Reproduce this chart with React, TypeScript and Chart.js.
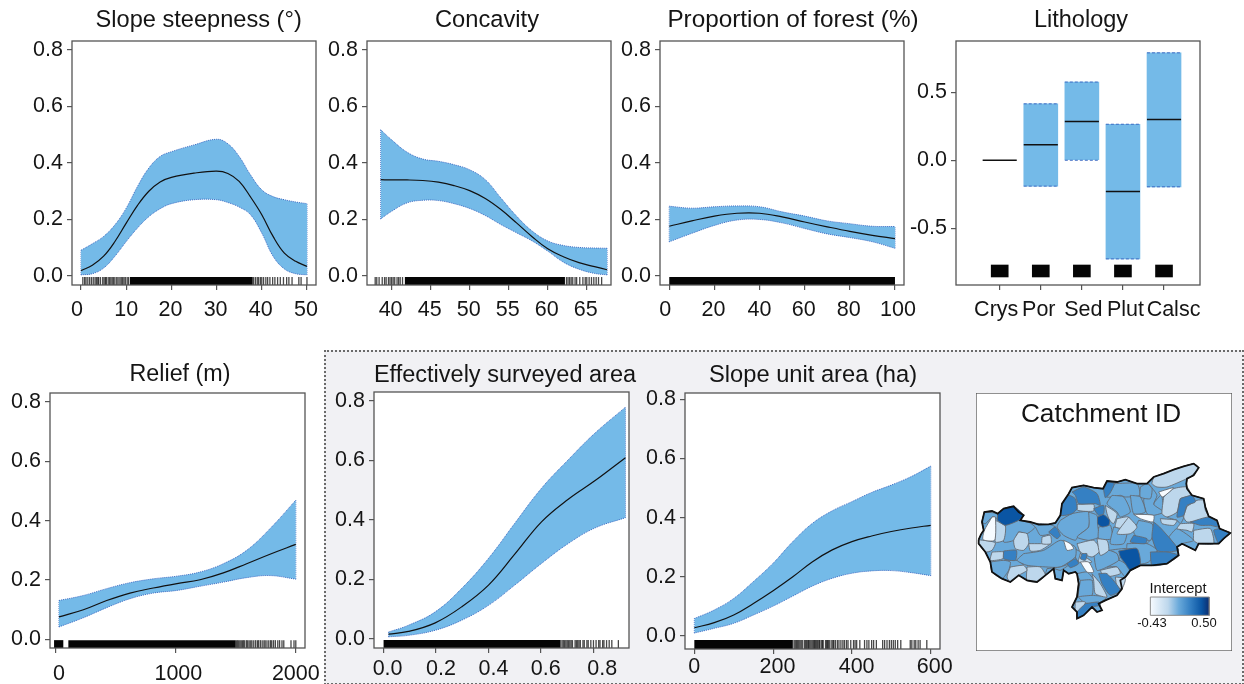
import React, { useEffect, useRef } from "react";
import { Chart, registerables } from "chart.js";

Chart.register(...registerables);

const FONT = '"Liberation Sans", Arial, sans-serif';
const INK = "#151515";
const FRAME = "#555555";
const BAND = "#74bae8";
const BAND_EDGE = "#3f6cc4";

// ---- Slope steepness
const steepX = [0, 2.5, 5, 7.5, 10, 12.5, 15, 17.5, 20, 25, 30, 32.5, 35, 37.5, 40, 42.5, 45, 47.5, 50];
const steepFit = [0.019, 0.038, 0.07, 0.122, 0.187, 0.25, 0.3, 0.333, 0.349, 0.364, 0.371, 0.363, 0.335, 0.28, 0.217, 0.14, 0.081, 0.052, 0.034];
const steepHigh = [0.091, 0.114, 0.14, 0.181, 0.24, 0.317, 0.382, 0.423, 0.44, 0.464, 0.484, 0.468, 0.423, 0.358, 0.305, 0.281, 0.27, 0.262, 0.256];
const steepLow = [0.004, 0.008, 0.028, 0.07, 0.122, 0.17, 0.21, 0.238, 0.256, 0.27, 0.27, 0.26, 0.244, 0.217, 0.152, 0.07, 0.025, 0.008, 0.004];
const steepTicks = [0, 10, 20, 30, 40, 50];
const steepRugBand = [10.8, 38];
const steepRug = [0.4, 0.8, 1.1, 1.5, 1.9, 2.3, 2.7, 3.1, 3.4, 3.7, 3.9, 4.3, 4.8, 5.1, 5.4, 5.6, 6, 6.3, 6.6, 6.9, 7.2, 7.5, 7.9, 8.2, 8.6, 8.9, 9.2, 9.5, 9.8, 10.2, 10.5, 38.2, 38.6, 39, 39.3, 39.7, 40, 40.4, 40.9, 41.3, 41.8, 42.4, 42.9, 43.5, 44.1, 44.8, 45.5, 46, 46.7, 48.2, 48.7, 50];

// ---- Concavity
const concX = [38.6, 40, 42, 44, 46, 48, 50, 52, 54, 56, 58, 60, 62, 64, 66, 67.6];
const concFit = [0.341, 0.34, 0.34, 0.338, 0.332, 0.32, 0.302, 0.274, 0.235, 0.188, 0.139, 0.096, 0.068, 0.047, 0.033, 0.022];
const concHigh = [0.518, 0.482, 0.438, 0.414, 0.406, 0.394, 0.376, 0.341, 0.276, 0.212, 0.159, 0.124, 0.108, 0.101, 0.099, 0.098];
const concLow = [0.202, 0.229, 0.259, 0.268, 0.267, 0.256, 0.239, 0.214, 0.182, 0.153, 0.124, 0.088, 0.049, 0.024, 0.009, 0.004];
const concTicks = [40, 45, 50, 55, 60, 65];
const concRugBand = [41.7, 62.2];
const concRug = [37.9, 38.1, 38.4, 38.8, 39.1, 39.3, 39.6, 39.8, 40, 40.2, 40.4, 40.7, 40.9, 41.1, 41.4, 62.4, 62.6, 62.8, 63, 63.2, 63.5, 63.7, 64.1, 64.5, 64.8, 65, 65.3, 65.6, 65.9, 66.2, 66.5, 66.9];

// ---- Proportion of forest
const forestX = [0, 10, 20, 30, 40, 50, 60, 70, 80, 90, 100];
const forestFit = [0.176, 0.195, 0.212, 0.222, 0.222, 0.209, 0.191, 0.174, 0.158, 0.144, 0.132];
const forestHigh = [0.247, 0.24, 0.245, 0.248, 0.245, 0.227, 0.212, 0.195, 0.185, 0.176, 0.175];
const forestLow = [0.121, 0.151, 0.179, 0.198, 0.2, 0.188, 0.168, 0.149, 0.136, 0.121, 0.098];
const forestTicks = [0, 20, 40, 60, 80, 100];
const forestRugBand = [0, 100];
const forestRug: number[] = [];

// ---- Lithology
const lithCategories = ["Crys", "Por", "Sed", "Plut", "Calsc"];
const lithPositions = [1, 2, 3, 4, 5];
const lithMean = [0, 0.115, 0.285, -0.23, 0.3];
const lithLow = [null, -0.19, 0.0, -0.725, -0.195];
const lithHigh = [null, 0.415, 0.575, 0.265, 0.79];
const lithRugLow = -0.858;
const lithRugHigh = -0.77;
const lithYTicks = [-0.5, 0, 0.5];

// ---- Relief
const reliefX = [29, 232, 426, 620, 814, 1011, 1203, 1397, 1591, 1785, 2000];
const reliefFit = [0.076, 0.1, 0.131, 0.156, 0.173, 0.188, 0.201, 0.224, 0.255, 0.287, 0.32];
const reliefHigh = [0.131, 0.148, 0.171, 0.191, 0.204, 0.213, 0.227, 0.255, 0.3, 0.373, 0.469];
const reliefLow = [0.042, 0.073, 0.107, 0.137, 0.156, 0.165, 0.179, 0.193, 0.208, 0.215, 0.203];
const reliefTicks = [0, 1000, 2000];
const reliefRugBands = [[-12, 65], [107, 1500]];
const reliefRug = [1505, 1515, 1525, 1535, 1545, 1555, 1565, 1575, 1590, 1600, 1612, 1625, 1635, 1650, 1665, 1680, 1690, 1705, 1720, 1735, 1745, 1760, 1775, 1790, 1800, 1815, 1830, 1850, 1865, 1885, 1900, 1960, 1985, 2000];

// ---- Effectively surveyed area
const surveyX = [0.019, 0.095, 0.197, 0.298, 0.4, 0.5, 0.602, 0.704, 0.805, 0.922];
const surveyFit = [0.015, 0.024, 0.053, 0.107, 0.18, 0.284, 0.393, 0.469, 0.531, 0.609];
const surveyHigh = [0.022, 0.045, 0.09, 0.169, 0.27, 0.388, 0.506, 0.602, 0.691, 0.779];
const surveyLow = [0.006, 0.011, 0.028, 0.062, 0.112, 0.18, 0.253, 0.32, 0.372, 0.407];
const surveyTicks = [0, 0.2, 0.4, 0.6, 0.8];
const surveyRugBand = [0, 0.675];
const surveyRug = [0.68, 0.685, 0.69, 0.695, 0.7, 0.705, 0.71, 0.715, 0.72, 0.73, 0.735, 0.74, 0.745, 0.75, 0.76, 0.765, 0.775, 0.78, 0.79, 0.8, 0.81, 0.82, 0.825, 0.835, 0.84, 0.85, 0.86, 0.87, 0.895];

// ---- Slope unit area
const unitX = [0, 50.6, 100, 150, 200, 250, 300, 350, 400, 450, 500, 551, 600];
const unitFit = [0.028, 0.045, 0.071, 0.11, 0.153, 0.2, 0.251, 0.291, 0.319, 0.338, 0.353, 0.365, 0.374];
const unitHigh = [0.059, 0.088, 0.127, 0.184, 0.246, 0.319, 0.381, 0.423, 0.454, 0.485, 0.51, 0.539, 0.574];
const unitLow = [0.01, 0.026, 0.043, 0.071, 0.101, 0.135, 0.169, 0.195, 0.212, 0.22, 0.221, 0.214, 0.204];
const unitTicks = [0, 200, 400, 600];
const unitRugBand = [0, 250];
const unitRug = [253, 256, 259, 262, 265, 268, 271, 274, 279, 282, 285, 288, 290, 293, 296, 299, 302, 305, 307, 310, 313, 316, 318, 322, 325, 327, 333, 336, 338, 341, 344, 349, 352, 354, 358, 363, 367, 372, 377, 381, 386, 390, 397, 404, 408, 412, 420, 432, 438, 443, 450, 455, 462, 478, 483, 489, 495, 500, 505, 510, 516, 524, 548, 552, 558, 562, 568, 573, 590];

const effectYTicks = [0, 0.2, 0.4, 0.6, 0.8];

// ---- Catchment ID map, in map units, north at small y
const mapXRange = [47, 815];
const mapYRange = [38, 812];
const mapOutline = [[55,478],[62,462],[70,450],[65,425],[72,395],[95,392],[112,400],[130,385],[160,378],[175,395],[190,405],[180,420],[210,425],[235,433],[265,432],[285,428],[300,405],[303,385],[305,370],[325,340],[335,322],[370,315],[400,322],[428,325],[440,302],[470,305],[495,298],[530,310],[560,310],[580,290],[610,280],[640,268],[670,258],[700,250],[715,262],[700,285],[680,295],[678,310],[680,325],[695,345],[730,355],[735,380],[745,408],[770,420],[778,445],[810,458],[790,475],[775,490],[745,490],[715,490],[705,510],[665,490],[650,500],[655,525],[620,550],[575,555],[540,555],[510,570],[495,590],[480,600],[485,625],[470,645],[435,660],[415,670],[425,690],[410,695],[395,680],[370,705],[350,715],[350,695],[335,680],[350,650],[355,610],[350,580],[345,575],[325,580],[310,570],[305,600],[285,595],[280,565],[255,585],[230,605],[200,600],[175,585],[150,605],[125,595],[95,575],[90,545],[75,515],[55,490],[55,478]];
const catchmentShapes = [
  [[600,345],[580,372],[610,395],[605,350]],
  [[650,395],[670,410],[660,430],[650,420],[620,410]],
  [[590,515],[575,470],[570,480],[560,490],[590,510]],
  [[625,470],[650,445],[700,480],[665,490],[650,500]],
  [[130,540],[170,540],[190,555],[150,560]],
  [[340,505],[360,515],[355,545],[345,530]],
  [[445,510],[500,505],[480,530],[475,540],[470,520]],
  [[440,560],[475,540],[495,550],[510,570],[495,590],[470,560]],
  [[350,580],[380,575],[400,600],[360,600]],
  [[190,520],[250,510],[300,480],[345,500],[345,530],[300,560],[260,560],[200,555],[170,540]],
  [[300,420],[335,400],[385,395],[385,440],[355,465],[345,480],[310,465],[290,440]],
  [[135,435],[175,420],[210,428],[225,440],[200,460],[175,455],[160,480],[130,485]],
  [[210,428],[265,432],[285,440],[270,460],[240,465],[225,440]],
  [[385,395],[410,405],[412,435],[415,470],[385,480],[350,470],[385,440]],
  [[462,310],[530,310],[538,345],[495,350],[480,345],[440,350]],
  [[565,310],[590,345],[580,372],[610,395],[580,405],[560,400],[550,360]],
  [[500,490],[560,490],[590,510],[565,545],[540,550],[530,505],[500,505]],
  [[400,520],[445,510],[470,520],[475,540],[440,560],[410,570]],
  [[90,545],[130,540],[150,545],[145,570],[125,595],[95,575]],
  [[260,565],[300,560],[330,550],[300,570],[280,565],[255,585]],
  [[455,345],[490,350],[510,395],[480,410],[470,395],[440,370]],
  [[510,345],[540,350],[555,395],[520,400]],
  [[415,440],[450,435],[455,475],[415,475]],
  [[460,440],[500,450],[490,490],[450,490]],
  [[535,420],[575,430],[580,455],[570,480],[530,470],[520,455]],
  [[540,320],[560,310],[575,325],[570,355],[540,350]],
  [[360,600],[395,600],[395,645],[355,650]],
  [[395,645],[440,650],[415,668],[375,668],[355,650]],
  [[72,395],[110,400],[112,420],[105,410],[95,410],[75,430],[65,425]],
  [[200,560],[240,560],[255,585],[230,605],[200,600]],
  [[580,290],[640,268],[700,250],[715,262],[690,290],[680,295],[620,320],[590,320],[575,310]],
  [[610,350],[640,325],[680,320],[690,345],[660,355],[650,395],[620,410],[605,400]],
  [[680,378],[710,360],[730,360],[735,390],[745,410],[720,420],[680,425],[670,410]],
  [[700,450],[750,445],[760,490],[715,490],[700,480]],
  [[660,430],[700,430],[695,455],[680,450],[650,445]],
  [[600,415],[650,420],[640,435],[605,430]],
  [[105,420],[135,437],[130,480],[105,485]],
  [[175,455],[200,460],[205,490],[190,510],[165,505],[160,480]],
  [[55,478],[105,487],[95,510],[75,515],[55,490]],
  [[95,515],[130,515],[128,535],[90,540]],
  [[150,560],[190,555],[200,570],[175,585],[150,605],[140,590]],
  [[205,490],[240,490],[270,490],[240,510],[210,512]],
  [[245,470],[270,465],[272,490],[245,490]],
  [[350,372],[400,372],[400,392],[352,390]],
  [[350,490],[400,480],[420,510],[395,530],[360,515]],
  [[410,475],[440,480],[445,510],[420,525]],
  [[435,375],[470,400],[460,430],[448,420],[440,400]],
  [[470,415],[505,410],[510,445],[465,440]],
  [[505,410],[530,440],[510,460],[470,460]],
  [[360,520],[395,545],[355,545]],
  [[395,580],[420,610],[440,650],[405,640],[400,600]],
  [[465,590],[495,595],[485,625],[470,620]],
  [[420,570],[470,560],[480,580],[430,590]],
  [[345,665],[375,665],[360,695],[345,690]],
  [[130,512],[168,510],[165,540],[130,535]],
  [[265,455],[285,440],[300,465],[290,475]],
  [[335,335],[370,320],[410,340],[420,375],[405,370],[355,370],[345,345]],
  [[305,370],[325,345],[345,355],[350,385],[335,400],[302,405]],
  [[400,385],[430,375],[430,400],[415,405]],
  [[430,330],[440,305],[462,310],[448,340],[435,352]],
  [[660,355],[695,345],[705,365],[680,375],[670,405],[650,410]],
  [[690,425],[745,410],[770,425],[775,440],[750,435],[720,435]],
  [[775,445],[810,458],[790,475],[775,490],[760,450]],
  [[580,425],[598,440],[625,470],[650,500],[655,510],[620,515],[590,510],[575,470]],
  [[570,515],[620,515],[655,525],[620,550],[575,555]],
  [[520,465],[560,475],[555,490],[510,485]],
  [[415,580],[440,580],[480,630],[450,645],[425,610]],
  [[375,670],[415,665],[420,675],[395,680],[370,705],[350,715],[350,695]],
  [[365,520],[380,520],[375,540],[360,535]],
  [[320,550],[345,535],[355,550],[330,562]],
  [[112,400],[130,385],[160,378],[190,405],[175,420],[135,435],[112,420]],
  [[412,410],[430,403],[448,420],[445,435],[425,440],[412,430]],
  [[475,512],[530,505],[540,550],[510,570],[495,550],[480,530]],
  [[95,410],[105,410],[103,480],[68,478],[72,450]],
  [[595,335],[640,322],[615,345],[605,350]],
  [[520,402],[580,405],[578,425],[540,415]],
  [[310,480],[330,490],[340,505],[320,510]],
  [[360,545],[385,545],[400,575],[380,575]],
];
const catchmentIntercepts = [
  0.02,0.02,0.02,0.02,0.02,0.02,0.02,0.02,0.02,
  0.02,0.02,0.02,0.02,0.02,0.02,0.02,0.02,0.02,0.02,0.02,0.02,0.02,0.02,0.02,0.02,0.02,0.02,0.02,0.02,
  -0.15,-0.15,-0.15,-0.15,-0.15,-0.15,-0.15,-0.15,-0.15,-0.15,-0.15,-0.15,-0.15,-0.15,-0.15,-0.15,-0.15,-0.15,-0.15,-0.15,-0.15,-0.15,-0.15,-0.15,-0.15,
  0.2,0.2,0.2,0.2,0.2,0.2,0.2,0.2,0.2,0.2,0.2,0.2,0.2,0.2,0.2,0.2,
  0.38,0.38,0.38,
  -0.43,-0.43,-0.43,-0.43,-0.43,
];
const interceptStops: [number, string][] = [[-0.43, "#f7fbff"], [-0.15, "#bdd7ec"], [0.02, "#69a9da"], [0.2, "#3580c3"], [0.38, "#0a55a3"], [0.5, "#0c2c6e"]];
const legendBox = [570, 747, 650, 705];

const shade = (v: number) => (interceptStops.find((s) => s[0] >= v) || interceptStops[interceptStops.length - 1])[1];

type Curve = {
  x: number[]; fit: number[]; low: number[]; high: number[]; ticks: number[];
  rugBands: number[][]; rug: number[];
};
type Frame = {
  l: number; r: number; t: number; b: number; xMin: number; xMax: number; yMin: number; yMax: number;
  rugY: number; rugR: number; xDigits: number; xPad: number; nudge: number[];
};

const PAD_L = 60, PAD_T = 24, PAD_R = 42, PAD_B = 46;

const framePlugin = {
  id: "frame",
  beforeDraw(chart: any) {
    const a = chart.chartArea;
    chart.ctx.save();
    chart.ctx.fillStyle = "#ffffff";
    chart.ctx.fillRect(a.left, a.top, a.width, a.height);
    chart.ctx.restore();
    const nudge = chart.options.plugins.frame?.nudge;
    if (nudge) {
      chart.scales.x.getLabelItems().forEach((item: any, i: number) => {
        item.options.translation = [item.options.translation[0] + (nudge[i] || 0), item.options.translation[1]];
      });
    }
  },
  afterDraw(chart: any) {
    const a = chart.chartArea;
    chart.ctx.save();
    chart.ctx.strokeStyle = FRAME;
    chart.ctx.lineWidth = 1.3;
    chart.ctx.strokeRect(a.left, a.top, a.width, a.height);
    chart.ctx.restore();
  },
};

const xy = (xs: number[], ys: number[]) => xs.map((x, i) => ({ x, y: ys[i] }));
const lineDefaults = { type: "scatter", showLine: true, pointRadius: 0, pointHoverRadius: 0, fill: false };

function scales(f: Frame, xTicks: number[], yTicks: number[], xFmt: (v: number) => string) {
  const tickGrid = { drawOnChartArea: false, drawTicks: true, tickLength: 5, color: FRAME, lineWidth: 1.2 };
  const font = { size: 21.5, family: FONT };
  return {
    x: {
      type: "linear", min: f.xMin, max: f.xMax, offset: false,
      afterBuildTicks: (s: any) => { s.ticks = xTicks.map((value) => ({ value })); },
      afterFit: (s: any) => { s.height = PAD_B; },
      grid: { ...tickGrid, offset: false }, border: { display: false },
      ticks: { font, color: INK, padding: f.xPad, maxRotation: 0, autoSkip: false, callback: (v: any) => xFmt(Number(v)) },
    },
    y: {
      type: "linear", min: f.yMin, max: f.yMax,
      afterBuildTicks: (s: any) => { s.ticks = yTicks.map((value) => ({ value })); },
      afterFit: (s: any) => { s.width = PAD_L; },
      grid: tickGrid, border: { display: false },
      ticks: { font, color: INK, padding: 4, autoSkip: false, callback: (v: any) => Number(v).toFixed(1) },
    },
  };
}

const baseOptions = (f: Frame, sc: any) => ({
  responsive: false, animation: false,
  layout: { padding: { left: 0, top: PAD_T, right: PAD_R, bottom: 0 } },
  plugins: { legend: { display: false }, tooltip: { enabled: false }, title: { display: false }, frame: { nudge: f.nudge } },
  scales: sc,
});

function curveConfig(c: Curve, f: Frame) {
  const edgeX = [c.x[0], c.x[0], NaN, c.x[c.x.length - 1], c.x[c.x.length - 1]];
  const edgeY = [c.low[0], c.high[0], NaN, c.low[c.low.length - 1], c.high[c.high.length - 1]];
  const smooth = { tension: 0.4 };
  const datasets: any[] = [
    { ...lineDefaults, ...smooth, label: "Fit", data: xy(c.x, c.fit), borderColor: "#111111", borderWidth: 1.2 },
    { ...lineDefaults, ...smooth, label: "Upper", data: xy(c.x, c.high), borderColor: BAND_EDGE, borderWidth: 1, borderDash: [1, 1] },
    { ...lineDefaults, ...smooth, label: "Lower", data: xy(c.x, c.low), borderColor: BAND_EDGE, borderWidth: 1, borderDash: [1, 1], fill: { target: "-1" }, backgroundColor: BAND },
    { ...lineDefaults, label: "Band edges", data: xy(edgeX, edgeY), borderColor: BAND_EDGE, borderWidth: 1, borderDash: [1, 1], spanGaps: false },
    ...c.rugBands.map((b, i) => ({ ...lineDefaults, label: `Rug band ${i}`, data: b.map((x) => ({ x, y: f.rugY })), borderColor: "#050505", borderWidth: f.rugR * 2 })),
    { type: "scatter", label: "Rug", data: c.rug.map((x) => ({ x, y: f.rugY })), pointStyle: "line", rotation: 90, pointRadius: f.rugR, pointHoverRadius: f.rugR, pointBorderWidth: 1.3, pointBorderColor: "rgba(0,0,0,0.72)", pointBackgroundColor: "rgba(0,0,0,0.72)" },
  ];
  const digits = f.xDigits;
  return {
    type: "scatter", data: { datasets },
    options: baseOptions(f, scales(f, c.ticks, effectYTicks, (v) => v.toFixed(digits))),
    plugins: [framePlugin],
  };
}

function lithologyConfig(f: Frame) {
  const half = 0.415;
  const segments = (ys: (number | null)[]) => {
    const pts: any[] = [];
    ys.forEach((y, i) => {
      if (y === null) return;
      pts.push({ x: lithPositions[i] - half, y }, { x: lithPositions[i] + half, y }, { x: lithPositions[i], y: NaN });
    });
    return pts;
  };
  const boxes = lithPositions.map((x, i) => ({ x, y: [lithLow[i], lithHigh[i]] })).filter((d) => d.y[0] !== null);
  const datasets: any[] = [
    { ...lineDefaults, label: "Mean", data: segments(lithMean), borderColor: "#111111", borderWidth: 1.5, spanGaps: false },
    { ...lineDefaults, label: "Upper", data: segments(lithHigh), borderColor: BAND_EDGE, borderWidth: 1, borderDash: [3, 2], spanGaps: false },
    { ...lineDefaults, label: "Lower", data: segments(lithLow), borderColor: BAND_EDGE, borderWidth: 1, borderDash: [3, 2], spanGaps: false },
    { type: "bar", label: "Interval", data: boxes, backgroundColor: BAND, barThickness: 34, grouped: false },
    { type: "bar", label: "Rug", data: lithPositions.map((x) => ({ x, y: [lithRugLow, lithRugHigh] })), backgroundColor: "#050505", barThickness: 17, grouped: false },
  ];
  return {
    type: "bar", data: { datasets },
    options: baseOptions(f, scales(f, lithPositions, lithYTicks, (v) => lithCategories[Math.round(v) - 1])),
    plugins: [framePlugin],
  };
}

function mapConfig() {
  const toPoints = (s: number[][]) => [...s, s[0]].map(([x, y]) => ({ x, y }));
  const [lx0, lx1, ly0, ly1] = legendBox;
  const ribbon = (ctx: any) => {
    const { chart } = ctx;
    const s = chart.scales.x;
    const a = s ? s.getPixelForValue(lx0) : NaN;
    const b = s ? s.getPixelForValue(lx1) : NaN;
    if (!Number.isFinite(a) || !Number.isFinite(b)) return interceptStops[2][1];
    const g = chart.ctx.createLinearGradient(a, 0, b, 0);
    const lo = interceptStops[0][0], hi = interceptStops[interceptStops.length - 1][0];
    interceptStops.forEach(([v, col]) => g.addColorStop((v - lo) / (hi - lo), col));
    return g;
  };
  const datasets: any[] = [
    { ...lineDefaults, label: "Intercept legend", data: toPoints([[lx0, ly0], [lx1, ly0], [lx1, ly1], [lx0, ly1]]), fill: "shape", backgroundColor: ribbon, borderColor: "#8a8a8a", borderWidth: 1 },
    { ...lineDefaults, label: "Outline", data: toPoints(mapOutline), borderColor: "#111111", borderWidth: 1.8 },
    ...catchmentShapes.map((s, i) => ({ ...lineDefaults, tension: 0.2, label: `Catchment ${i + 1}`, data: toPoints(s), fill: "shape", backgroundColor: shade(catchmentIntercepts[i]), borderColor: "#646a72", borderWidth: 0.9 })).reverse(),
    { ...lineDefaults, label: "Region", data: toPoints(mapOutline), fill: "shape", backgroundColor: shade(0.02), borderColor: "#111111", borderWidth: 1 },
  ];
  return {
    type: "scatter", data: { datasets },
    options: {
      responsive: false, animation: false,
      layout: { padding: 0 },
      plugins: { legend: { display: false }, tooltip: { enabled: false } },
      scales: {
        x: { type: "linear", display: false, min: mapXRange[0], max: mapXRange[1] },
        y: { type: "linear", display: false, reverse: true, min: mapYRange[0], max: mapYRange[1] },
      },
    },
    plugins: [framePlugin],
  };
}

const frames: Record<string, Frame> = {
  steep: { l: 72, r: 316, t: 41, b: 285, xMin: -2, xMax: 52, yMin: -0.032, yMax: 0.832, rugY: -0.018, rugR: 4, xDigits: 0, xPad: 7, nudge: [-4, 0, -1, -1, -1, -1] },
  conc: { l: 367, r: 611, t: 41, b: 285, xMin: 36.85, xMax: 68.1, yMin: -0.032, yMax: 0.832, rugY: -0.018, rugR: 4, xDigits: 0, xPad: 7, nudge: [-1, -1, -1, -1, -1, -1] },
  forest: { l: 660, r: 904, t: 41, b: 285, xMin: -4.1, xMax: 104, yMin: -0.032, yMax: 0.832, rugY: -0.018, rugR: 4, xDigits: 0, xPad: 7, nudge: [-4, -1, 0, -1, -1, 3] },
  lith: { l: 956, r: 1200, t: 41, b: 285, xMin: -0.064, xMax: 5.876, yMin: -0.917, yMax: 0.877, rugY: 0, rugR: 0, xDigits: 0, xPad: 7, nudge: [-3.5, -2, 1.5, 2.5, 9.5] },
  relief: { l: 50, r: 305, t: 393, b: 648, xMin: -45.8, xMax: 2076.6, yMin: -0.029, yMax: 0.83, rugY: -0.016, rugR: 4, xDigits: 0, xPad: 8, nudge: [3.5, 2.7, 0] },
  survey: { l: 374, r: 629, t: 392, b: 648, xMin: -0.0365, xMax: 0.9355, yMin: -0.0317, yMax: 0.83, rugY: -0.0185, rugR: 4, xDigits: 1, xPad: 3, nudge: [4, 5, 5, 4.7, 8.7] },
  unit: { l: 685, r: 940, t: 393, b: 649, xMin: -23.7, xMax: 623.5, yMin: -0.0439, yMax: 0.821, rugY: -0.0287, rugR: 4.5, xDigits: 0, xPad: 0, nudge: [0, 4.3, 4.7, 4] },
};

const titles: [string, number, number, number][] = [
  ["Slope steepness (°)", 198.7, 19, 23.6],
  ["Concavity", 487, 19, 23.7],
  ["Proportion of forest (%)", 793, 19, 24.3],
  ["Lithology", 1081, 19, 23.5],
  ["Relief (m)", 180, 373, 23.3],
  ["Effectively surveyed area", 505, 374, 23.5],
  ["Slope unit area (ha)", 813, 374, 23.7],
  ["Catchment ID", 1101, 413, 26.2],
  ["Intercept", 1178, 588, 14.7],
  ["-0.43", 1152, 623, 13],
  ["0.50", 1204, 623, 13],
];

function Panel({ frame, make, map }: { frame: Frame; make: () => any; map?: boolean }) {
  const ref = useRef<HTMLCanvasElement>(null);
  useEffect(() => {
    const chart = new Chart(ref.current as any, make());
    return () => chart.destroy();
  }, []);
  const left = map ? frame.l : frame.l - PAD_L;
  const top = map ? frame.t : frame.t - PAD_T;
  const width = map ? frame.r - frame.l : PAD_L + frame.r - frame.l + PAD_R;
  const height = map ? frame.b - frame.t : PAD_T + frame.b - frame.t + PAD_B;
  return <canvas ref={ref} width={width} height={height} style={{ position: "absolute", left, top, width, height }} />;
}

const curves: Record<string, Curve> = {
  steep: { x: steepX, fit: steepFit, low: steepLow, high: steepHigh, ticks: steepTicks, rugBands: [steepRugBand], rug: steepRug },
  conc: { x: concX, fit: concFit, low: concLow, high: concHigh, ticks: concTicks, rugBands: [concRugBand], rug: concRug },
  forest: { x: forestX, fit: forestFit, low: forestLow, high: forestHigh, ticks: forestTicks, rugBands: [forestRugBand], rug: forestRug },
  relief: { x: reliefX, fit: reliefFit, low: reliefLow, high: reliefHigh, ticks: reliefTicks, rugBands: reliefRugBands, rug: reliefRug },
  survey: { x: surveyX, fit: surveyFit, low: surveyLow, high: surveyHigh, ticks: surveyTicks, rugBands: [surveyRugBand], rug: surveyRug },
  unit: { x: unitX, fit: unitFit, low: unitLow, high: unitHigh, ticks: unitTicks, rugBands: [unitRugBand], rug: unitRug },
};

const mapFrame: Frame = { l: 976, r: 1232, t: 393, b: 651, xMin: 0, xMax: 0, yMin: 0, yMax: 0, rugY: 0, rugR: 0, xDigits: 0, xPad: 0, nudge: [] };

export default function App() {
  return (
    <div style={{ position: "absolute", left: 0, top: 0, width: 1244, height: 684, overflow: "hidden", background: "#ffffff", fontFamily: FONT, color: INK }}>
      <div style={{ position: "absolute", left: 324, top: 350, width: 916, height: 331, background: "#f1f1f4", border: "2px dotted #6a6a6a" }} />
      {Object.keys(curves).map((k) => (
        <Panel key={k} frame={frames[k]} make={() => curveConfig(curves[k], frames[k])} />
      ))}
      <Panel frame={frames.lith} make={() => lithologyConfig(frames.lith)} />
      <Panel frame={mapFrame} map make={() => mapConfig()} />
      {titles.map(([text, cx, cy, size]) => (
        <div key={text} style={{ position: "absolute", left: cx - 200, top: cy - 20, width: 400, height: 40, lineHeight: "40px", textAlign: "center", fontSize: size, whiteSpace: "nowrap" }}>{text}</div>
      ))}
    </div>
  );
}
